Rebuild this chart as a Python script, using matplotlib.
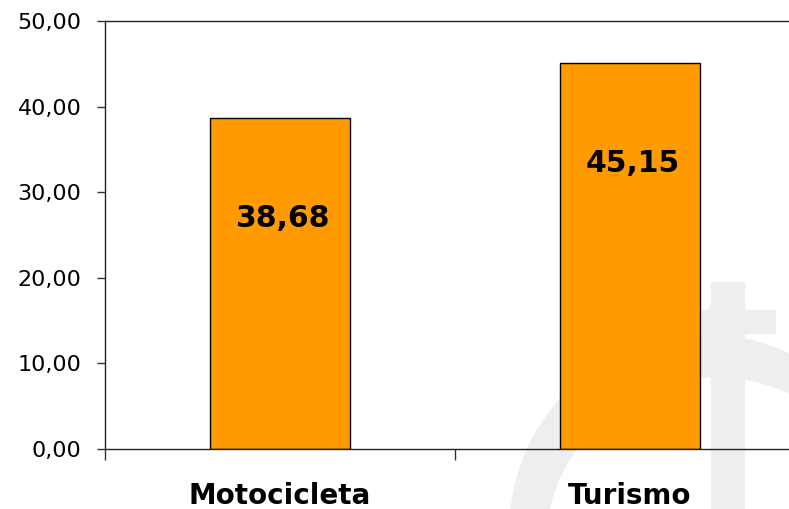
import matplotlib
matplotlib.use("Agg")
import matplotlib.pyplot as plt
from matplotlib.patches import Circle, Rectangle
from matplotlib.ticker import FuncFormatter

categories = ["Motocicleta", "Turismo"]
values = [38.68, 45.15]
y_ticks = [0, 10, 20, 30, 40, 50]

W, H = 789, 509
fig = plt.figure(figsize=(W / 100, H / 100), dpi=100)

# faint watermark logo in the background (pixel coords)
bg = fig.add_axes([0, 0, 1, 1], zorder=0)
bg.set_xlim(0, W)
bg.set_ylim(H, 0)
bg.axis("off")
wm = "#eeeeee"
bg.add_patch(Circle((705, 530), 195, color=wm))
bg.add_patch(Circle((716, 548), 170, color="white"))
bg.add_patch(Rectangle((711, 282), 33, 240, color=wm))
bg.add_patch(Rectangle((702, 310), 73, 23, color=wm))
bg.add_patch(Circle((727, 318), 20, color=wm))

# main axes, right edge runs past the picture like in the original
ax = fig.add_axes([105 / W, (H - 449) / H, 700 / W, 428 / H], zorder=1)
ax.patch.set_alpha(0)

x = list(range(len(categories)))
ax.bar(x, values, width=0.4, color="#ff9a00", edgecolor="black", linewidth=1)

for xi, v in zip(x, values):
    ax.annotate(f"{v:.2f}".replace(".", ","), (xi, v), xytext=(2, -72.5),
                textcoords="offset points", ha="center", va="center",
                fontsize=21.5, fontweight="bold", color="black")

ax.set_xlim(-0.5, 1.5)
ax.set_ylim(0, 50)
ax.set_yticks(y_ticks)
ax.yaxis.set_major_formatter(FuncFormatter(lambda v, p: f"{v:.2f}".replace(".", ",")))

ax.set_xticks([-0.5, 0.5, 1.5])
ax.set_xticklabels([])
ax.set_xticks(x, minor=True)
ax.set_xticklabels(categories, minor=True, fontsize=20, fontweight="bold")
ax.tick_params(axis="x", which="minor", length=0, pad=24)
ax.tick_params(axis="x", which="major", length=8, width=1, color="#333333")
ax.tick_params(axis="y", length=6, width=1, color="#333333", labelsize=16, pad=11)

for s in ["left", "bottom", "top"]:
    ax.spines[s].set_color("#222222")
    ax.spines[s].set_linewidth(1)
ax.spines["right"].set_visible(False)

fig.savefig("out.png", dpi=100)
